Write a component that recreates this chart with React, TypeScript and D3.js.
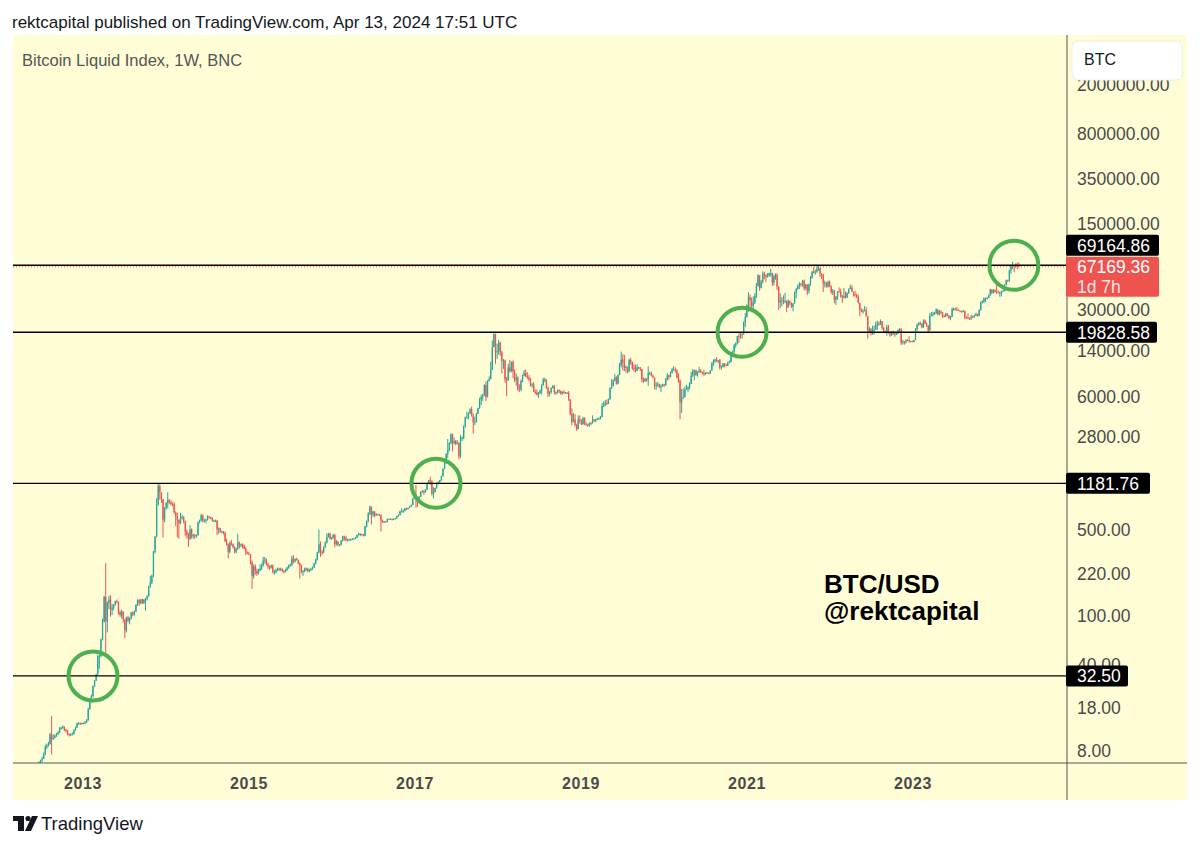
import React from "react";
import * as d3 from "d3";

// ---------- DATA ----------
const START_WEEK = "2012-06-04";
const FIRST_OPEN = 5.2;
// weekly candles: [close, high, low]
const w2012 = [[5.5,5.7,5.2],[5.9,6.0,5.4],[6.4,6.6,5.9],[6.7,6.8,6.3],
[6.9,7.2,6.5],[7.5,7.8,6.9],[8.6,9.0,7.4],[8.9,9.2,8.3],[9.1,9.5,8.7],
[10.9,11.2,9.0],[10.0,15.4,7.5],[10.2,10.9,9.8],[10.6,10.9,10.1],
[10.9,11.2,10.4],[11.3,11.6,10.8],[12.2,12.5,11.2],[12.3,12.6,11.9],
[12.6,12.9,12.1],[11.9,12.5,11.6],[11.8,12.1,11.3],[11.0,11.8,10.7],[10.8,11.1,10.5],
[10.9,11.1,10.6],[11.0,11.3,10.7],[11.8,12.0,10.9],[12.4,12.6,11.7],
[13.4,13.6,12.3],[13.4,13.7,13.1],[13.3,13.6,13.0],[13.5,13.6,13.1],[13.4,13.6,13.2]];
const w2013 = [[13.6,14.0,13.2],[14.2,14.5,13.5],[17.5,17.9,14.1],[20.4,20.6,17.3],
[22.3,23.0,19.8],[26.9,27.2,21.8],[29.9,30.1,26.5],[33.4,33.8,29.5],
[46.9,48.0,33.3],[46.9,49.0,37.0],[64,65,46],[89,95,63],
[142,145,88],[90,266,50],[127,130,73],[135,145,113],[112,146,98],
[117,125,101],[123,124,110],[131,132,121],[129,135,126],
[107,130,102],[101,110,98],[108,112,95],[93,105,88],
[76,94,66],[97,98,73],[91,100,88],[95,97,85],[106,107,93],
[102,108,99],[108,110,100],[122,124,107],[134,136,120],
[127,136,120],[135,136,124],[126,138,124],[135,136,125],[137,139,110],
[144,146,133],[173,175,143],[186,210,168],[211,215,180],
[331,335,205],[438,440,320],[800,900,430],[1125,1181.76,780],
[1000,1160,870],[880,1000,820],[600,880,430],[750,760,570],[820,830,720]];
const w2014 = [[870,1000,740],[830,880,800],[810,860,780],[800,830,770],
[690,830,670],[640,700,530],[600,680,430],[560,600,420],
[630,680,550],[630,660,600],[580,640,560],[480,590,440],[450,500,420],
[420,470,360],[500,540,410],[440,510,420],[450,460,420],
[440,460,420],[450,455,430],[570,580,445],[590,600,560],
[650,670,580],[590,660,570],[590,610,570],[600,610,560],[640,650,590],
[630,640,610],[620,630,605],[590,625,580],[590,600,570],
[590,600,575],[500,595,450],[510,520,460],[480,515,470],
[480,490,465],[470,485,455],[400,480,395],[380,420,370],[330,385,290],
[390,400,320],[380,410,370],[360,385,350],[330,365,320],
[350,355,320],[390,460,340],[370,400,350],[380,385,360],
[370,385,350],[350,375,345],[330,360,310],[320,330,315],[315,330,310]];
const w2015 = [[270,300,260],[210,280,165],[250,260,200],[230,260,215],
[220,240,210],[230,240,215],[240,260,230],[255,265,235],
[280,300,250],[285,300,265],[260,290,255],[250,270,240],[245,255,235],
[255,260,240],[225,260,220],[225,235,215],[235,240,220],
[240,245,230],[235,245,230],[240,245,230],[230,240,225],
[225,235,220],[235,240,225],[245,250,230],[255,260,240],[255,265,250],
[290,305,255],[275,310,265],[290,290,270],[285,295,280],
[265,285,260],[255,270,200],[230,260,220],[230,235,210],[240,245,225],
[240,245,230],[230,245,225],[235,240,225],[240,245,230],
[245,250,235],[265,270,245],[285,290,260],[325,330,280],
[380,500,320],[330,400,300],[325,340,310],[360,365,320],[390,400,355],
[435,465,385],[460,470,430],[420,470,415],[430,435,410]];
const w2016 = [[450,460,420],[380,460,360],[400,410,370],[375,400,365],
[375,380,365],[405,410,370],[440,445,400],[430,445,405],[410,440,400],
[410,420,400],[415,420,405],[415,420,405],[420,425,410],
[420,425,415],[430,435,420],[450,455,425],[460,470,445],
[460,465,440],[455,460,445],[445,460,440],[530,535,440],[580,590,520],
[670,690,570],[760,780,650],[660,770,550],[700,710,630],
[650,700,630],[665,680,640],[660,670,650],[655,665,640],
[590,660,480],[570,600,565],[580,585,565],[575,585,570],[605,610,570],
[610,615,600],[610,615,600],[600,610,590],[610,615,595],
[615,620,605],[640,645,610],[655,660,635],[700,710,650],[700,740,690],
[705,725,680],[740,745,700],[730,750,720],[745,750,725],
[770,775,745],[790,795,765],[890,895,785],[960,980,880]];
const w2017 = [[900,1150,750],[830,910,760],[920,930,830],[1010,1020,915],[1020,1040,990],
[1000,1050,950],[1050,1060,990],[1190,1200,1040],[1250,1260,1170],
[1230,1330,1150],[970,1250,940],[1000,1100,890],[1080,1090,1000],
[1190,1200,1070],[1210,1220,1160],[1250,1260,1190],[1350,1360,1240],
[1550,1560,1340],[1750,1800,1540],[2050,2070,1700],[2200,2700,1900],[2500,2550,2150],
[2950,3000,2450],[2500,2980,2150],[2600,2780,2450],[2450,2650,2400],
[2500,2650,2450],[1950,2550,1850],[2750,2900,1900],[2750,2850,2600],[3400,3500,2700],
[4050,4100,3350],[4100,4500,3950],[4350,4450,3900],[4700,4800,4300],
[4150,4950,4100],[3700,4350,3000],[3700,4100,3500],[4350,4400,3700],
[4800,4850,4300],[5650,5850,4750],[5950,6200,5100],[6100,6300,5500],[7400,7500,6050],
[5900,7900,5500],[8000,8100,5900],[8250,8700,7900],[9800,11400,8800],
[15000,17000,9800],[19200,19828.58,15000],[13800,19000,11000],[13900,16000,12000]];
const w2018 = [[16400,17200,13000],[13600,16500,12800],[11600,14000,9200],[11700,12000,10000],[8200,11900,7700],
[8100,8600,6000],[10300,11000,8000],[9600,11800,9300],[11400,11500,9400],
[9500,11700,8400],[8200,9900,7800],[8500,9200,7300],[6900,8700,6600],
[6800,7500,6500],[8000,8200,6600],[8800,9000,7800],[9300,9800,8700],[8700,9900,8600],
[8500,9400,8300],[8200,8900,7950],[7350,8500,7200],[7500,7700,7050],
[6500,7800,6500],[6450,6800,6250],[6150,6800,6100],[6400,6500,5800],
[6700,6800,6250],[7400,7500,6200],[8200,8450,7300],[8200,8500,7800],[7000,8200,6900],
[6300,7200,5900],[6500,6600,6000],[7000,7100,6300],[7250,7400,6950],
[6500,7400,6200],[6500,6550,6150],[6700,6800,6300],[6600,6800,6350],
[6300,6700,6200],[6500,6600,6150],[6400,6700,6300],[6350,6500,6300],[6400,6500,6250],
[5600,6600,5500],[4300,5700,4200],[3700,4800,3500],[3900,4400,3700],
[3500,4300,3400],[3250,3600,3150],[3900,4200,3250],[3800,4200,3600],[3550,3900,3500]];
const w2019 = [[4000,4100,3550],[3600,4050,3500],[3550,3700,3450],[3500,3600,3400],
[3600,3700,3400],[3650,3700,3500],[3900,4200,3600],[3800,3900,3700],
[3900,3950,3700],[3950,4000,3850],[3950,4050,3900],[4100,4150,3900],
[5000,5300,4050],[5050,5450,4900],[5300,5600,5000],[5250,5650,5100],[5700,5750,5200],
[7000,7100,5600],[7250,8300,6900],[8050,8200,7500],[8550,9100,7900],
[7600,8700,7450],[8950,9000,7500],[10700,11200,8900],[11900,13800,10300],
[11300,13200,9700],[10200,13000,9600],[10400,10700,9300],[9500,10150,9200],[11800,12100,9500],
[11300,12300,10800],[10200,11500,9800],[10100,10900,9500],[9600,10800,9350],
[10300,10900,9600],[10300,10400,9950],[10000,10300,9600],[8200,10000,7800],[7900,8500,7700],
[8300,8500,7950],[8200,8400,7850],[9200,10500,7300],[9200,9500,8900],
[8800,9500,8700],[8500,9000,8400],[7300,8500,6800],[7400,7800,6800],
[7500,7800,7200],[7100,7600,7000],[7200,7500,6500],[7500,7600,7150],[7350,7550,7150]];
const w2020 = [[8100,8450,7300],[8900,9200,8050],[8600,8950,8200],[9350,9550,8550],
[9900,10200,9150],[9900,10500,9750],[9700,10300,9300],[8500,9900,8400],
[8000,9200,7700],[5350,8200,3900],[5800,6900,4400],[5900,6900,5700],[6800,7200,5900],
[6900,7450,6750],[7100,7250,6500],[7550,7800,6800],[8800,9450,7550],
[9700,9950,8600],[9700,9900,8100],[8900,9850,8800],[9450,9600,8650],
[9700,10400,9300],[9450,9950,9250],[9300,9500,9000],[9050,9800,8800],[9250,9400,8900],
[9300,9450,9150],[9200,9350,9100],[9700,9800,9100],[11050,11400,9700],
[11600,11950,10600],[11900,12100,11150],[11650,12450,11400],[11700,11800,11100],[10300,12050,9900],
[10450,10700,9900],[11100,11150,10250],[10750,11000,10300],[10650,10950,10550],
[11350,11400,10550],[11350,11700,11200],[13100,13200,11300],[13800,14050,12850],
[15500,15950,13300],[16100,16400,14850],[18400,18500,15800],[18200,19400,16200],[19200,19900,17600],
[19100,19400,17600],[23800,24300,18950],[26400,28400,21800],[33000,33300,26000]];
const w2021 = [[38200,41900,29000],[36000,40100,30400],[32300,37900,28800],[34300,38700,29300],
[39200,41000,33500],[47200,49700,37500],[57500,58400,46200],[45200,57500,43000],
[51000,52600,45000],[59000,61700,49300],[57500,61300,53200],[55800,58400,50400],[57000,59800,54900],
[59800,60000,55800],[60000,64800,56100],[50100,57500,47000],[56600,58000,47500],
[58200,59500,52900],[46400,59500,43500],[34700,46700,30000],[35600,40900,31200],[35800,38200,32200],
[35500,39500,33400],[35600,41300,34000],[31600,36000,28800],[35300,36600,31300],
[34200,35900,32800],[31800,34500,31100],[34000,34100,29300],[41500,42500,33800],
[44400,45300,37300],[47000,48100,43800],[48900,50500,44400],[48800,49800,46400],[51800,52800,46500],
[45000,52900,43000],[48300,48800,43800],[42700,48300,39600],[48200,49200,40800],
[54900,56500,47100],[61500,62000,53900],[61300,67000,59500],[61300,63700,58000],
[64900,67800,60100],[65500,69164.86,62300],[59000,66300,55700],[57200,59400,53500],[49400,59100,42000],
[50100,51900,45700],[46700,50200,45600],[50800,51900,45500],[46400,52100,45900]];
const w2022 = [[41800,47500,40600],[43100,44400,39700],[36300,43500,34000],[38500,38900,33000],[42400,42700,36300],
[42200,45800,41700],[38400,44700,37900],[37700,39800,34300],[38800,45400,37200],
[37800,42400,37200],[41300,41700,37600],[44600,44800,40500],[45600,48200,44200],
[42200,47400,42000],[40400,41500,38600],[39500,42900,38600],[38500,40800,37600],
[34300,40000,33800],[30100,34300,26700],[29400,31000,28700],[29500,30600,28000],[29900,32300,29300],
[26600,31700,26600],[20500,26900,17600],[21000,21900,19700],[19300,21500,18700],
[20800,22400,18900],[20800,22400,18900],[22600,24200,20800],[23300,24600,20700],
[23200,24200,22400],[24400,25200,22700],[21500,24400,20800],[20300,21800,19600],[19800,20400,19600],
[21800,22800,18600],[19400,22700,19300],[18800,19700,18200],[19300,20300,18500],
[19400,20400,18900],[19200,19500,18200],[19200,19700,18900],[20600,21000,19100],[21000,21400,20000],
[16300,21500,15600],[16700,17200,15800],[16500,16800,15700],[17100,17400,16000],
[17100,17400,16900],[16800,18400,16300],[16850,16900,16400],[16550,16800,16400]];
const w2023 = [[17100,17200,16500],[20900,21400,17100],[22700,23300,20400],[23700,23900,22300],[23300,24200,22600],
[21800,23500,21400],[24600,25200,21500],[23200,25200,23100],[22400,23900,21900],
[20500,22600,19600],[26900,28400,20400],[27500,28900,26700],[28000,29100,26600],
[28300,29000,27300],[30300,31000,27900],[27600,30400,27100],[29200,30000,27200],
[28900,29800,27700],[26800,28600,25800],[26700,27600,26300],[28000,28400,26200],[27100,28400,26600],
[25800,27300,25400],[26300,26900,24800],[30500,31400,26300],[30600,31400,29600],
[30300,31400,29700],[30200,31800,29600],[29800,30300,29500],[29300,29600,28900],[29000,29600,28600],
[29400,30200,28800],[26100,29700,25300],[26000,26800,25800],[25900,28100,25300],
[25800,26100,24900],[26500,27400,24900],[26300,27000,26000],[27000,27500,26000],
[27900,28600,26900],[26900,28000,26500],[29900,30400,26900],[34500,35300,29800],[35000,35900,33900],
[37000,38000,34100],[37400,37900,34900],[37500,38400,36700],[39500,40200,37500],
[44000,44700,39200],[41300,43400,40300],[43700,44300,41000],[42300,43800,41500]];
const w2024 = [[41700,48900,40600],[41600,43300,41400],[41600,42300,38500],[42600,43000,38600],[43000,43900,42500],
[48300,48600,42500],[52100,52900,47500],[51700,53000,50600],[63000,64000,50900],
[68400,69200,59000],[68400,73700,64500],[67200,68100,60800],[69600,71800,66400],
[69400,72700,64500],[67169.36,72800,66800]];

const priceTicks = [2000000, 800000, 350000, 150000, 30000, 14000, 6000, 2800, 500, 220, 100, 40, 18, 8];
const yearTicks = [2013, 2015, 2017, 2019, 2021, 2023];
const levels = [69164.86, 19828.58, 1181.76, 32.5];
const circleDates = ["2013-02-14", "2017-04-03", "2020-12-10", "2024-03-20"];
const circlePrices = [32.5, 1181.76, 19828.58, 69164.86];
const currentPrice = 67169.36;
const countdown = "1d 7h";

// ---------- STYLE ----------
const BG = "#fffdd6";
const UP = "#26a69a";
const DOWN = "#ef5350";
const FONT = "'Liberation Sans', Arial, Helvetica, sans-serif";
const levelBoxWidths = [93, 91, 84, 62];

export default function App() {
  const W = 1200, H = 847;
  const frame = { left: 13, right: 1187, top: 35, bottom: 800 };
  const plot = { left: 13, right: 1067, top: 35, bottom: 763 };

  const x = d3.scaleUtc()
    .domain([new Date(Date.UTC(2013, 0, 1)), new Date(Date.UTC(2023, 0, 1))])
    .range([83, 913]);
  const y = d3.scaleLog().domain([8, 2000000]).range([751, 85]);

  const all = [...w2012, ...w2013, ...w2014, ...w2015, ...w2016, ...w2017, ...w2018, ...w2019, ...w2020, ...w2021, ...w2022, ...w2023, ...w2024];
  const start = new Date(START_WEEK + "T00:00:00Z");
  const candles = all.map((d, i) => {
    const open = i === 0 ? FIRST_OPEN : all[i - 1][0];
    const close = d[0];
    const date = d3.utcDay.offset(start, i * 7 + 3);
    return {
      date, open, close,
      high: Math.max(d[1], open, close),
      low: Math.min(d[2], open, close),
    };
  });

  const curY = y(currentPrice);
  const redTop = curY - 10;
  const redH = 40;

  const levelLabels = levels.map((v, i) => {
    const cy = y(v);
    let top = cy - 10.5;
    if (top + 21 > redTop && top < redTop + redH) {
      top = redTop - 22;
    }
    return { v, top, w: levelBoxWidths[i] };
  });

  return (
    <svg width={W} height={H} style={{ position: "absolute", left: 0, top: 0, background: "#fff" }} fontFamily={FONT}>
      <defs>
        <clipPath id="plotClip">
          <rect x={plot.left} y={plot.top} width={plot.right - plot.left} height={plot.bottom - plot.top} />
        </clipPath>
      </defs>
      <rect x={0} y={0} width={W} height={H} fill="#fff" />
      <text x={12} y={28} fontSize={17} fill="#131722">rektcapital published on TradingView.com, Apr 13, 2024 17:51 UTC</text>

      <rect x={frame.left} y={frame.top} width={frame.right - frame.left} height={frame.bottom - frame.top} fill={BG} />

      <g clipPath="url(#plotClip)">
        {candles.map((c, i) => {
          const cx = x(c.date);
          const col = c.close >= c.open ? UP : DOWN;
          const yt = y(Math.max(c.open, c.close));
          const yb = y(Math.min(c.open, c.close));
          return (
            <g key={i}>
              <line x1={cx} x2={cx} y1={y(c.high)} y2={y(c.low)} stroke={col} strokeWidth={1} />
              <rect x={cx - 0.65} y={yt} width={1.3} height={Math.max(1, yb - yt)} fill={col} />
            </g>
          );
        })}
        {levels.map((v, i) => (
          <line key={i} x1={plot.left} x2={plot.right} y1={y(v)} y2={y(v)} stroke="#000" strokeWidth={1.4} />
        ))}
        <line x1={plot.left} x2={plot.right} y1={curY} y2={curY} stroke={DOWN} strokeWidth={1} strokeDasharray="1,2" />
        {circleDates.map((d, i) => (
          <circle key={i} cx={x(new Date(d + "T00:00:00Z"))} cy={y(circlePrices[i])} r={24.5} fill="none" stroke="#4caf50" strokeWidth={4} />
        ))}
      </g>

      <text x={22} y={66} fontSize={16.5} fill="#555">Bitcoin Liquid Index, 1W, BNC</text>

      <text x={824} y={593} fontSize={26} fontWeight="bold" fill="#000">BTC/USD</text>
      <text x={824} y={620} fontSize={26} fontWeight="bold" fill="#000">@rektcapital</text>

      <line x1={plot.right} x2={plot.right} y1={frame.top} y2={frame.bottom} stroke="#555" strokeWidth={1} />
      <line x1={frame.left} x2={frame.right} y1={plot.bottom} y2={plot.bottom} stroke="#555" strokeWidth={1} />

      {priceTicks.map((t) => (
        <text key={t} x={1077} y={y(t)} dy="0.36em" fontSize={17.5} fill="#4a4a4a">{d3.format(".2f")(t)}</text>
      ))}

      {yearTicks.map((yr) => (
        <text key={yr} x={x(new Date(Date.UTC(yr, 0, 1)))} y={789} textAnchor="middle" fontSize={16} fontWeight="bold" fill="#4a4a4a" letterSpacing={0.6}>{yr}</text>
      ))}

      {levelLabels.map((l, i) => (
        <g key={i}>
          <rect x={plot.right - 1} y={l.top} width={l.w} height={21} rx={2} fill="#000" />
          <text x={1077} y={l.top + 10.5} dy="0.36em" fontSize={17.5} fill="#fff">{d3.format(".2f")(l.v)}</text>
        </g>
      ))}

      <rect x={plot.right - 1} y={redTop} width={93} height={redH} rx={2} fill={DOWN} />
      <text x={1077} y={curY} dy="0.36em" fontSize={17.5} fill="#fff">{d3.format(".2f")(currentPrice)}</text>
      <text x={1077} y={curY + 20} dy="0.36em" fontSize={17.5} fill="#fde2e2">{countdown}</text>

      <rect x={1072} y={41} width={110} height={39} rx={6} fill="#fff" stroke="#ececec" />
      <text x={1084} y={65} fontSize={16} fill="#131722">BTC</text>

      <g fill="#131722">
        <rect x={13} y={816} width={11} height={5} />
        <rect x={18} y={816} width={6} height={15} />
        <circle cx={28} cy={818.5} r={2.6} />
        <polygon points="32,816 38,816 31,831 25,831" />
      </g>
      <text x={41} y={830} fontSize={18.5} fill="#131722">TradingView</text>
    </svg>
  );
}
